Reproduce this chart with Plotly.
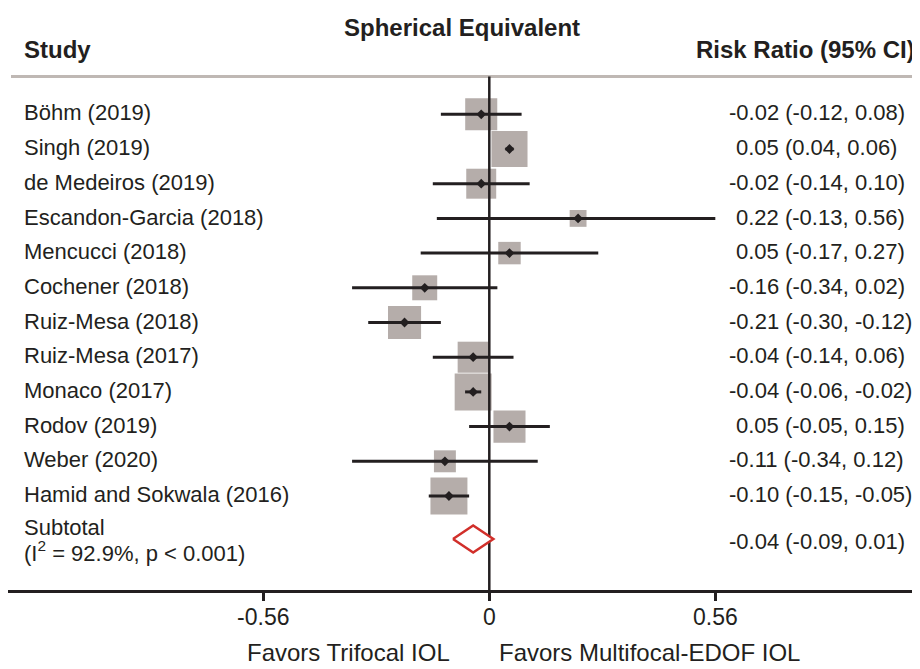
import plotly.graph_objects as go

# ---------------- data ----------------
studies = ["Böhm (2019)", "Singh (2019)", "de Medeiros (2019)", "Escandon-Garcia (2018)",
           "Mencucci (2018)", "Cochener (2018)", "Ruiz-Mesa (2018)", "Ruiz-Mesa (2017)",
           "Monaco (2017)", "Rodov (2019)", "Weber (2020)", "Hamid and Sokwala (2016)"]
estimates = [-0.02, 0.05, -0.02, 0.22, 0.05, -0.16, -0.21, -0.04, -0.04, 0.05, -0.11, -0.10]
ci_low = [-0.12, 0.04, -0.14, -0.13, -0.17, -0.34, -0.30, -0.14, -0.06, -0.05, -0.34, -0.15]
ci_high = [0.08, 0.06, 0.10, 0.56, 0.27, 0.02, -0.12, 0.06, -0.02, 0.15, 0.12, -0.05]
weights = [9.4, 11.9, 8.2, 2.6, 4.6, 5.7, 10.0, 8.8, 12.5, 9.4, 4.4, 12.5]  # relative weights (%)

subtotal_est = -0.04
subtotal_low = -0.09
subtotal_high = 0.01
subtotal_label = "Subtotal"
heterogeneity = "(I<sup>2</sup> = 92.9%, p < 0.001)"

tick_vals = [-0.56, 0, 0.56]
tick_text = ["-0.56", "0", "0.56"]

title = "Spherical Equivalent"
left_header = "Study"
right_header = "Risk Ratio (95% CI)"
favors_left = "Favors Trifocal IOL"
favors_right = "Favors Multifocal-EDOF IOL"

# ---------------- layout helpers ----------------
OFF = 8                      # page body margin of the html page
W, H = 920 - OFF, 669 - OFF  # figure size
ML, MR, MT, MB = 0, 0, 0, 669 - 590
PW = W - ML - MR
PH = H - MT - MB
ZERO_PX = 489.3
PX_PER_UNIT = 403.6
ROW0_PX = 114.3
ROW_STEP = 34.7

# all *_px below are page coordinates of the target picture
def px_to_x(px):
    return (px - ZERO_PX) / PX_PER_UNIT

def px_to_row(py):
    return (py - ROW0_PX) / ROW_STEP

def px_to_paper_x(px):
    return (px - OFF - ML) / PW

def px_to_paper_y(py):
    return 1 - (py - OFF - MT) / PH

FONT = "Liberation Sans, Arial, Helvetica, sans-serif"
TXT = "#231f20"
rows = list(range(len(studies)))
sub_row = px_to_row(539)

fig = go.Figure()

# weight squares
fig.add_trace(go.Scatter(
    x=estimates, y=rows, mode="markers",
    marker=dict(symbol="square", size=[10.46 * w ** 0.5 for w in weights],
                color="#b5adaa", opacity=1, line=dict(width=0)),
    hoverinfo="skip", showlegend=False))

# zero reference line
fig.add_trace(go.Scatter(
    x=[0, 0], y=[px_to_row(76.5), px_to_row(590)], mode="lines",
    line=dict(color=TXT, width=2.5), hoverinfo="skip", showlegend=False))

# CI lines
cx, cy = [], []
for r, lo, hi in zip(rows, ci_low, ci_high):
    cx += [lo, hi, None]
    cy += [r, r, None]
fig.add_trace(go.Scatter(
    x=cx, y=cy, mode="lines", line=dict(color=TXT, width=3),
    hoverinfo="skip", showlegend=False))

# point estimates
fig.add_trace(go.Scatter(
    x=estimates, y=rows, mode="markers",
    marker=dict(symbol="diamond", size=7.5, color=TXT, line=dict(width=0)),
    hoverinfo="skip", showlegend=False))

# subtotal diamond
half_h = 13.5 / ROW_STEP
fig.add_trace(go.Scatter(
    x=[subtotal_low, subtotal_est, subtotal_high, subtotal_est, subtotal_low],
    y=[sub_row, sub_row - half_h, sub_row, sub_row + half_h, sub_row],
    mode="lines", fill="toself", fillcolor="white",
    line=dict(color="#d12f2a", width=2.5), hoverinfo="skip", showlegend=False))

annotations = []
# title and headers
annotations.append(dict(text=f"<b>{title}</b>", x=px_to_paper_x(462), y=px_to_paper_y(28),
                        xref="paper", yref="paper", xanchor="center", yanchor="middle",
                        showarrow=False, font=dict(size=24, family=FONT, color=TXT)))
annotations.append(dict(text=f"<b>{left_header}</b>", x=px_to_paper_x(22), y=px_to_paper_y(50),
                        xref="paper", yref="paper", xanchor="left", yanchor="middle",
                        showarrow=False, font=dict(size=24, family=FONT, color=TXT)))
annotations.append(dict(text=f"<b>{right_header}</b>", x=px_to_paper_x(917), y=px_to_paper_y(50),
                        xref="paper", yref="paper", xanchor="right", yanchor="middle",
                        showarrow=False, font=dict(size=24, family=FONT, color=TXT)))

def ci_text(e, lo, hi):
    return f"{e:.2f} ({lo:.2f}, {hi:.2f})"

# study labels and CI text
for r, name, e, lo, hi in zip(rows, studies, estimates, ci_low, ci_high):
    annotations.append(dict(text=name, x=px_to_paper_x(22), y=r - 0.04, xref="paper", yref="y",
                            xanchor="left", yanchor="middle", showarrow=False,
                            font=dict(size=22, family=FONT, color=TXT)))
    t = ci_text(e, lo, hi)
    xpx = 727 if t.startswith("-") else 734.3
    annotations.append(dict(text=t, x=px_to_paper_x(xpx), y=r - 0.04, xref="paper", yref="y",
                            xanchor="left", yanchor="middle", showarrow=False,
                            font=dict(size=22, family=FONT, color=TXT)))

# subtotal text (two tight lines: line spacing follows the base font)
sub_text = (f"<span style='font-size:22px'>{subtotal_label}</span><br>"
            f"<span style='font-size:22px'>{heterogeneity}</span>")
annotations.append(dict(text=sub_text, x=px_to_paper_x(22), y=px_to_row(540.5), xref="paper", yref="y",
                        xanchor="left", yanchor="middle", align="left", showarrow=False,
                        font=dict(size=19.7, family=FONT, color=TXT)))
t = ci_text(subtotal_est, subtotal_low, subtotal_high)
annotations.append(dict(text=t, x=px_to_paper_x(727 if t.startswith("-") else 734.3), y=px_to_row(541),
                        xref="paper", yref="y", xanchor="left", yanchor="middle", showarrow=False,
                        font=dict(size=22, family=FONT, color=TXT)))

# favors labels
annotations.append(dict(text=favors_left, x=px_to_paper_x(452), y=px_to_paper_y(652),
                        xref="paper", yref="paper", xanchor="right", yanchor="middle",
                        showarrow=False, font=dict(size=24, family=FONT, color=TXT)))
annotations.append(dict(text=favors_right, x=px_to_paper_x(497), y=px_to_paper_y(652),
                        xref="paper", yref="paper", xanchor="left", yanchor="middle",
                        showarrow=False, font=dict(size=24, family=FONT, color=TXT)))

shapes = [
    # header separator line
    dict(type="line", xref="paper", yref="paper",
         x0=px_to_paper_x(11), x1=px_to_paper_x(914),
         y0=px_to_paper_y(76.5), y1=px_to_paper_y(76.5),
         line=dict(color="#bfb8b4", width=3), layer="below"),
]

fig.update_layout(
    width=W, height=H,
    margin=dict(l=ML, r=MR, t=MT, b=MB, pad=0),
    paper_bgcolor="white", plot_bgcolor="white",
    showlegend=False,
    annotations=annotations,
    shapes=shapes,
    xaxis=dict(range=[px_to_x(OFF + ML), px_to_x(OFF + W - MR)], showgrid=False, zeroline=False,
               showline=True, linecolor=TXT, linewidth=3,
               tickvals=tick_vals, ticktext=tick_text,
               ticks="outside", ticklen=8, tickwidth=3, tickcolor=TXT,
               ticklabelstandoff=-4,
               tickfont=dict(size=23, family=FONT, color=TXT), fixedrange=True),
    yaxis=dict(range=[px_to_row(OFF + MT + PH), px_to_row(OFF + MT)], visible=False, fixedrange=True),
)

fig.write_html("out.html")
